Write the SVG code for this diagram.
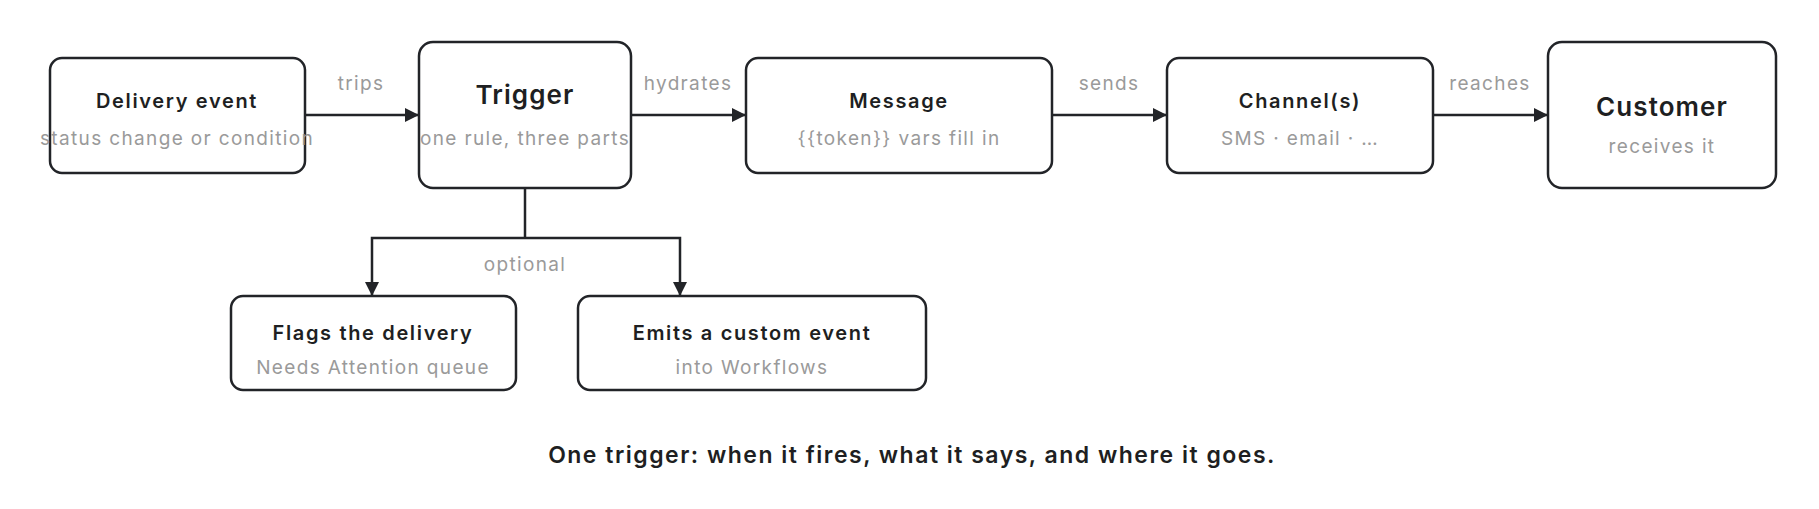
<svg xmlns="http://www.w3.org/2000/svg" width="1819" height="509" viewBox="0 0 1819 509">
<defs>
<marker id="ah" viewBox="0 0 14 14" refX="14" refY="7" markerWidth="14" markerHeight="14" markerUnits="userSpaceOnUse" orient="auto">
<path d="M0,0 L14,7 L0,14 Z" fill="#222428"/>
</marker>
<style>
.box{fill:#fff;stroke:#222428;stroke-width:2.5}
.t{font-family:Inter,"Liberation Sans",sans-serif;font-weight:600;font-size:20px;fill:#1e1f22;text-anchor:middle;letter-spacing:1.65px}
.tl{font-size:26px;letter-spacing:1.1px}
.s{font-family:Inter,"Liberation Sans",sans-serif;font-size:19px;fill:#9a9a9a;text-anchor:middle;letter-spacing:1.35px}
.lbl{font-family:Inter,"Liberation Sans",sans-serif;font-size:19px;fill:#9a9a9a;text-anchor:middle;letter-spacing:1.35px}
.e{fill:none;stroke:#222428;stroke-width:2.5}
.cap{font-family:Inter,"Liberation Sans",sans-serif;font-weight:600;font-size:23px;fill:#1e1f22;text-anchor:middle;letter-spacing:1.5px}
</style>
</defs>
<rect width="1819" height="509" fill="#fff"/>
<g id="connectors">
<line class="e" x1="305" y1="115" x2="419" y2="115" marker-end="url(#ah)"/>
<line class="e" x1="631" y1="115" x2="746" y2="115" marker-end="url(#ah)"/>
<line class="e" x1="1052" y1="115" x2="1167" y2="115" marker-end="url(#ah)"/>
<line class="e" x1="1433" y1="115" x2="1548" y2="115" marker-end="url(#ah)"/>
<path class="e" d="M525,188 V238"/>
<path class="e" d="M525,238 H372 V296" marker-end="url(#ah)"/>
<path class="e" d="M525,238 H680 V296" marker-end="url(#ah)"/>
<text class="lbl" x="361" y="90">trips</text>
<text class="lbl" x="688" y="90">hydrates</text>
<text class="lbl" x="1109" y="90">sends</text>
<text class="lbl" x="1490" y="90">reaches</text>
<text class="lbl" x="525" y="271">optional</text>
</g>
<g id="n-delivery">
<rect class="box" x="50" y="58" width="255" height="115" rx="12"/>
<text class="t" x="177" y="108">Delivery event</text>
<text class="s" x="177" y="145">status change or condition</text>
</g>
<g id="n-trigger">
<rect class="box" x="419" y="42" width="212" height="146" rx="14"/>
<text class="t tl" x="525" y="104">Trigger</text>
<text class="s" x="525" y="145">one rule, three parts</text>
</g>
<g id="n-message">
<rect class="box" x="746" y="58" width="306" height="115" rx="12"/>
<text class="t" x="899" y="108">Message</text>
<text class="s" x="899" y="145">{{token}} vars fill in</text>
</g>
<g id="n-channels">
<rect class="box" x="1167" y="58" width="266" height="115" rx="12"/>
<text class="t" x="1300" y="108">Channel(s)</text>
<text class="s" x="1300" y="145">SMS · email · …</text>
</g>
<g id="n-customer">
<rect class="box" x="1548" y="42" width="228" height="146" rx="14"/>
<text class="t tl" x="1662" y="116">Customer</text>
<text class="s" x="1662" y="153">receives it</text>
</g>
<g id="n-flags">
<rect class="box" x="231" y="296" width="285" height="94" rx="12"/>
<text class="t" x="373" y="340">Flags the delivery</text>
<text class="s" x="373" y="374">Needs Attention queue</text>
</g>
<g id="n-emits">
<rect class="box" x="578" y="296" width="348" height="94" rx="12"/>
<text class="t" x="752" y="340">Emits a custom event</text>
<text class="s" x="752" y="374">into Workflows</text>
</g>
<text class="cap" x="912" y="463">One trigger: when it fires, what it says, and where it goes.</text>
</svg>
